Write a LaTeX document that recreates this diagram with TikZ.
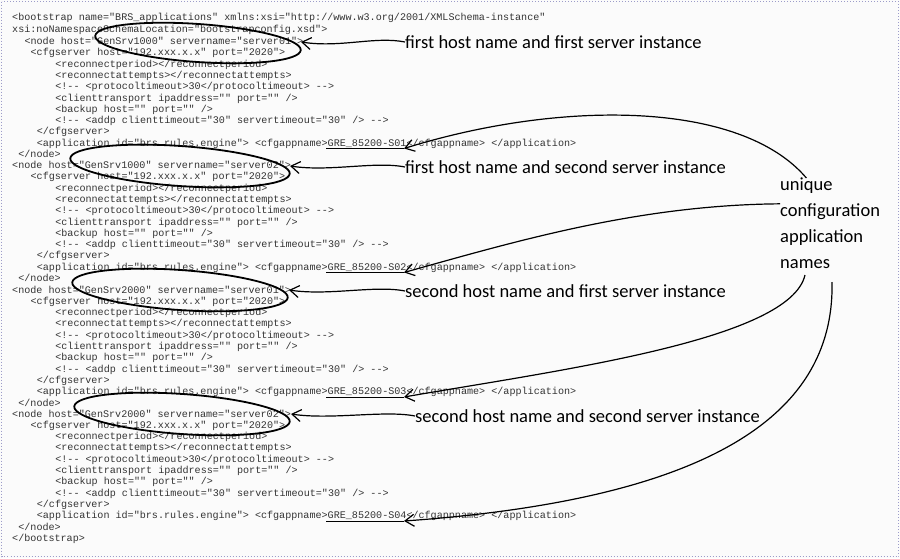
\documentclass[tikz,border=0pt]{standalone}
\usepackage{fontspec}
\setmonofont{Liberation Mono}
\newfontfamily\handfont{Carlito}
\usetikzlibrary{arrows.meta,calc}
\tikzset{
 code/.style={anchor=base west,inner sep=0pt,font=\ttfamily\fontsize{10.1}{12}\selectfont,text=black!80},
 note/.style={anchor=west,inner sep=0pt,font=\handfont\fontsize{18.5}{20}\selectfont},
 ring/.style={draw=black,line width=1.8pt},
 arr/.style={draw=black,line width=1.2pt,-{Straight Barb[length=9pt,width=12pt]}},
 uline/.style={draw=black,line width=1pt}
}
\begin{document}
\begin{tikzpicture}[x=1pt,y=-1pt]
\useasboundingbox (0,0) rectangle (900,558);
\fill[white!97!gray] (0,0) rectangle (900,558);
\draw[blue!30!gray!60,dotted,line width=1pt] (1.5,1.5) rectangle (898.5,556.5);
\def\cx#1{12+#1*6.16}
\node[code] (l1) at (12,20) {<bootstrap name="BRS\_applications"  xmlns:xsi="http://www.w3.org/2001/XMLSchema-instance"};
\node[code] (l2) at (12,32) {xsi:noNamespaceSchemaLocation="bootstrapconfig.xsd">};
\foreach \b/\y/\hn/\sv/\ind/\ap in {1/44.5/GenSrv1000/server01/2/S01, 2/168.5/GenSrv1000/server02/0/S02, 3/293/GenSrv2000/server01/0/S03, 4/417/GenSrv2000/server02/0/S04}{
 \node[code] (n\b) at ({\cx{\ind}},\y) {<node host="\hn" servername="\sv">};
 \node[code] (c\b) at ({\cx{3}},\y+11.3) {<cfgserver host="192.xxx.x.x" port="2020">};
 \node[code] (r\b) at ({\cx{7}},\y+22.6) {<reconnectperiod></reconnectperiod>};
 \node[code] (a\b) at ({\cx{7}},\y+33.9) {<reconnectattempts></reconnectattempts>};
 \node[code] (p\b) at ({\cx{7}},\y+45.2) {<!-- <protocoltimeout>30</protocoltimeout> -->};
 \node[code] (t\b) at ({\cx{7}},\y+56.5) {<clienttransport ipaddress="" port="" />};
 \node[code] (k\b) at ({\cx{7}},\y+67.8) {<backup host="" port="" />};
 \node[code] (d\b) at ({\cx{7}},\y+79.1) {<!-- <addp clienttimeout="30" servertimeout="30" /> -->};
 \node[code] (e\b) at ({\cx{4}},\y+90.4) {</cfgserver>};
 \node[code] (ap\b) at ({\cx{4}},\y+101.7) {<application id="brs.rules.engine"> <cfgappname>GRE\_85200-\ap</cfgappname> </application>};
 \node[code] (en\b) at ({\cx{1}},\y+113) {</node>};
 \coordinate (g\b) at (326,\y+104);
 \coordinate (h\b) at (404,\y+104);
 \draw[uline] (g\b) -- (h\b);
}
\node[code] (lend) at (12,541) {</bootstrap>};
% ellipses
\draw[ring,rotate around={-4:(198,43)}] (198,43) ellipse [x radius=103pt, y radius=19pt];
\draw[ring,rotate around={-4:(180,166)}] (180,166) ellipse [x radius=110pt, y radius=20pt];
\draw[ring,rotate around={-4:(180,290)}] (180,290) ellipse [x radius=108pt, y radius=20pt];
\draw[ring,rotate around={-4:(182,414)}] (182,414) ellipse [x radius=108pt, y radius=20pt];
% notes
\node[note] (f1) at (405,42) {first host name and first server instance};
\node[note] (f2) at (405,167) {first host name and second server instance};
\node[note] (f3) at (405,291) {second host name and first server instance};
\node[note] (f4) at (415,416) {second host name and second server instance};
\node[note] (u1) at (780,186) {unique};
\node[note] (u2) at (780,212) {configuration};
\node[note] (u3) at (780,238) {application};
\node[note] (u4) at (780,264) {names};
\coordinate (e1) at (301,42);
\coordinate (e2) at (290,166);
\coordinate (e3) at (289,290);
\coordinate (e4) at (291,414);
\coordinate (s3) at (805,275);
\coordinate (s4) at (832,282);
\foreach \i in {1,2,3,4}{
 \draw[arr] (f\i.west) .. controls ($(f\i.west)+(-30,-6)$) and ($(e\i)+(40,6)$) .. (e\i);
}
\draw[arr] (u1.north) .. controls (740,100) and (560,100) .. (h1);
\draw[arr] (u2.north west) .. controls (640,205) and (520,240) .. (h2);
\draw[arr] (s3) .. controls (790,340) and (560,370) .. (h3);
\draw[arr] (s4) .. controls (835,420) and (700,500) .. (h4);
\end{tikzpicture}
\end{document}
